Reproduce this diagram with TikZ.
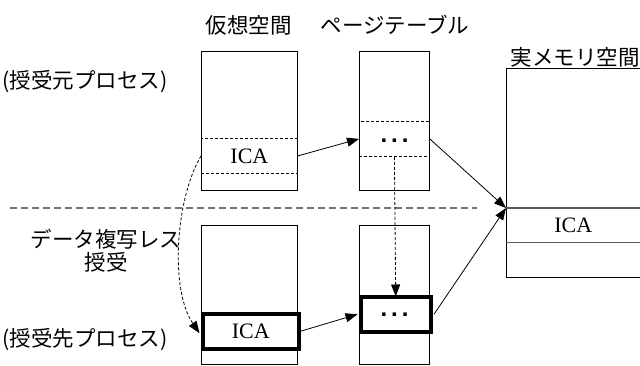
\documentclass[tikz,border=0pt]{standalone}
\usepackage{fontspec}
\setmainfont{Liberation Serif}
\newfontfamily\jp{Noto Sans CJK JP}
\newfontfamily\dotfont{Liberation Sans}
\usetikzlibrary{arrows.meta}
\begin{document}
\begin{tikzpicture}[x=1pt,y=-1pt,
  lbl/.style={font=\jp\fontsize{21.5}{25}\selectfont, inner sep=0pt, align=center},
  col/.style={draw=black, line width=0.8pt, rectangle, inner sep=0pt, anchor=north west},
  band/.style={rectangle, inner sep=0pt, anchor=north west, font=\fontsize{22}{24}\selectfont},
  dband/.style={band, draw=black, line width=0.8pt, dash pattern=on 3pt off 2pt},
  tband/.style={band, draw=black, line width=3.5pt},
  arr/.style={line width=0.8pt, -{Triangle[length=12pt,width=9pt]}},
  darr/.style={arr, dash pattern=on 3pt off 2pt},
  rmline/.style={draw=black!65, line width=1.1pt},
  dots/.style={font=\dotfont\bfseries\fontsize{24}{26}\selectfont, inner sep=0pt, anchor=base}
]
\useasboundingbox (0,0) rectangle (640,365);

% labels
\node[lbl] (lv) at (248.5,25) {仮想空間};
\node[lbl] (lp) at (395,25) {ページテーブル};
\node[lbl] (lr) at (575,57) {実メモリ空間};
\node[lbl] (ls) at (85,82) {(授受元プロセス)};
\node[lbl] (ld) at (85,340) {(授受先プロセス)};
\node[lbl] (lc1) at (106,239) {データ複写レス};
\node[lbl] (lc2) at (106,262) {授受};

% separator
\coordinate (sepL) at (10,208);
\coordinate (sepR) at (477,208);
\draw[draw=black!55, line width=1.2pt, dash pattern=on 7pt off 4pt] (sepL) -- (sepR);

% top (source) columns
\node[col, minimum width=96pt, minimum height=139pt] (vt) at (201,51) {};
\node[dband, minimum width=96pt, minimum height=35pt] (vtica) at (201,138) {ICA};
\node[col, minimum width=70pt, minimum height=139pt] (pt) at (359,51) {};
\node[dband, minimum width=70pt, minimum height=35pt] (ptb) at (359,121) {};
\node[dots] (ptd) at (394.5,142) {.\,.\,.};

% bottom (destination) columns
\node[col, minimum width=96pt, minimum height=139pt] (vb) at (201,225) {};
\node[tband, minimum width=96pt, minimum height=35pt] (vbica) at (201,312) {ICA};
\node[col, minimum width=70pt, minimum height=139pt] (pb) at (359,225) {};
\node[tband, minimum width=70pt, minimum height=35pt] (pbb) at (359,295) {};
\node[dots] (pbd) at (394.5,316) {.\,.\,.};

% real memory
\node[band, minimum width=134pt, minimum height=140pt] (rmtop) at (506,68) {};
\node[band, minimum width=134pt, minimum height=34pt] (rmica) at (506,208) {ICA};
\node[band, minimum width=134pt, minimum height=35pt] (rmbot) at (506,242) {};
\draw[line width=0.8pt] (rmtop.north east) -- (rmtop.north west) -- (rmbot.south west) -- (rmbot.south east);
\draw[rmline] (rmica.north west) -- (rmica.north east);
\draw[rmline] (rmica.south west) -- (rmica.south east);

% connectors
\draw[arr] (vtica.east) -- (ptb.west);
\draw[arr] (vbica.east) -- ([xshift=-1.5pt]pbb.west);
\draw[arr] (ptb.east) -- (rmica.north west);
\draw[arr] ([xshift=1.5pt]pbb.east) -- (rmica.north west);
\draw[darr] (ptb.south) -- ([yshift=-1.5pt]pbb.north);
\draw[darr] (vtica.west) .. controls (175,200) and (170,290) .. ([xshift=-1.5pt,yshift=-2pt]vbica.west);
\end{tikzpicture}
\end{document}
